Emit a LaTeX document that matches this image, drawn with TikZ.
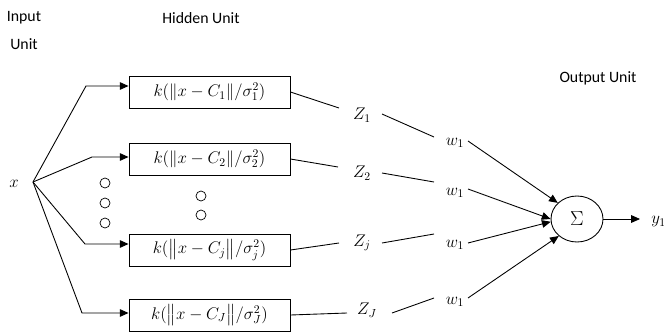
\documentclass[tikz,border=0pt]{standalone}
\usepackage{amsmath}
\usepackage{fontspec}
\setmainfont{Carlito}
\usetikzlibrary{arrows.meta,shapes.geometric}
\begin{document}
\begin{tikzpicture}[x=0.03cm,y=-0.03cm,
  line width=0.75pt,
  lbl/.style={font=\fontsize{13.5}{16}\selectfont, inner sep=0pt},
  mlbl/.style={font=\fontsize{14.5}{16}\selectfont, inner sep=0pt},
  kbox/.style={draw, minimum width=4.83cm, minimum height=0.96cm, font=\fontsize{14}{16}\selectfont, inner sep=0pt},
  arr/.style={-{Triangle[length=7.5pt,width=6.5pt]}},
  odot/.style={circle, draw, line width=0.6pt, minimum size=0.3cm, inner sep=0pt}]
\useasboundingbox (0,0) rectangle (664,333);
% headings
\node[lbl] (in1) at (24,18) {Input};
\node[lbl] (in2) at (24,44) {Unit};
\node[lbl] (hid) at (201,18) {Hidden Unit};
\node[lbl] (out) at (598,78) {Output Unit};
% input
\node[mlbl] (x) at (14,184) {$x$};
\coordinate (B) at (33,182);
% boxes
\node[kbox] (b1) at (209.5,92) {$k(\|x-C_1\|/\sigma_1^2)$};
\node[kbox] (b2) at (209.5,159) {$k(\|x-C_2\|/\sigma_2^2)$};
\node[kbox] (b3) at (209.5,250) {$k(\bigl\|x-C_j\bigr\|/\sigma_j^2)$};
\node[kbox] (b4) at (209.5,315) {$k(\bigl\|x-C_J\bigr\|/\sigma_J^2)$};
% knees
\coordinate (k1) at (86,86);
\coordinate (k2) at (92,157);
\coordinate (k3) at (85,244);
\coordinate (k4) at (82,313);
\draw[arr] (B) -- (k1) -- (k1 -| b1.west);
\draw[arr] (B) -- (k2) -- (k2 -| b2.west);
\draw[arr] (B) -- (k3) -- (k3 -| b3.west);
\draw[arr] (B) -- (k4) -- (k4 -| b4.west);
% dots
\node[odot] (d1) at (105,183) {};
\node[odot] (d2) at (105,203) {};
\node[odot] (d3) at (105,223) {};
\node[odot] (d4) at (201,196) {};
\node[odot] (d5) at (201,215) {};
% Z labels
\node[mlbl] (z1) at (362,115) {$Z_1$};
\node[mlbl] (z2) at (362,173) {$Z_2$};
\node[mlbl] (z3) at (362,243) {$Z_j$};
\node[mlbl] (z4) at (367,310) {$Z_J$};
\coordinate (z1a) at (339,108);
\coordinate (z2a) at (338,167);
\coordinate (z3a) at (339,243);
\coordinate (z4a) at (347,313);
\draw (b1.east) -- (z1a);
\draw (b2.east) -- (z2a);
\draw (b3.east) -- (z3a);
\draw (b4.east) -- (z4a);
% w labels
\node[mlbl] (w1) at (455,143) {$w_1$};
\node[mlbl] (w2) at (455,193) {$w_1$};
\node[mlbl] (w3) at (455,245) {$w_1$};
\node[mlbl] (w4) at (455,302) {$w_1$};
\coordinate (z1b) at (382,114); \coordinate (w1a) at (434,137);
\coordinate (z2b) at (382,173); \coordinate (w2a) at (434,182);
\coordinate (z3b) at (382,243); \coordinate (w3a) at (434,234);
\coordinate (z4b) at (392,313); \coordinate (w4a) at (434,298);
\draw (z1b) -- (w1a);
\draw (z2b) -- (w2a);
\draw (z3b) -- (w3a);
\draw (z4b) -- (w4a);
% sum
\node[ellipse, draw, minimum width=1.56cm, minimum height=1.38cm, inner sep=0pt, font=\fontsize{17}{18}\selectfont] (sum) at (577,219) {$\Sigma$};
\coordinate (w1b) at (468,141);
\coordinate (w2b) at (468,189);
\coordinate (w3b) at (468,243);
\coordinate (w4b) at (468,298);
\draw[arr] (w1b) -- (sum.140);
\draw[arr] (w2b) -- (sum.180);
\draw[arr] (w3b) -- (sum.186);
\draw[arr] (w4b) -- (sum.223);
\coordinate (yo) at (640,219);
\draw[arr] (sum.east) -- (yo);
\node[mlbl, anchor=west] (y) at (651,222) {$y_1$};
\end{tikzpicture}
\end{document}
